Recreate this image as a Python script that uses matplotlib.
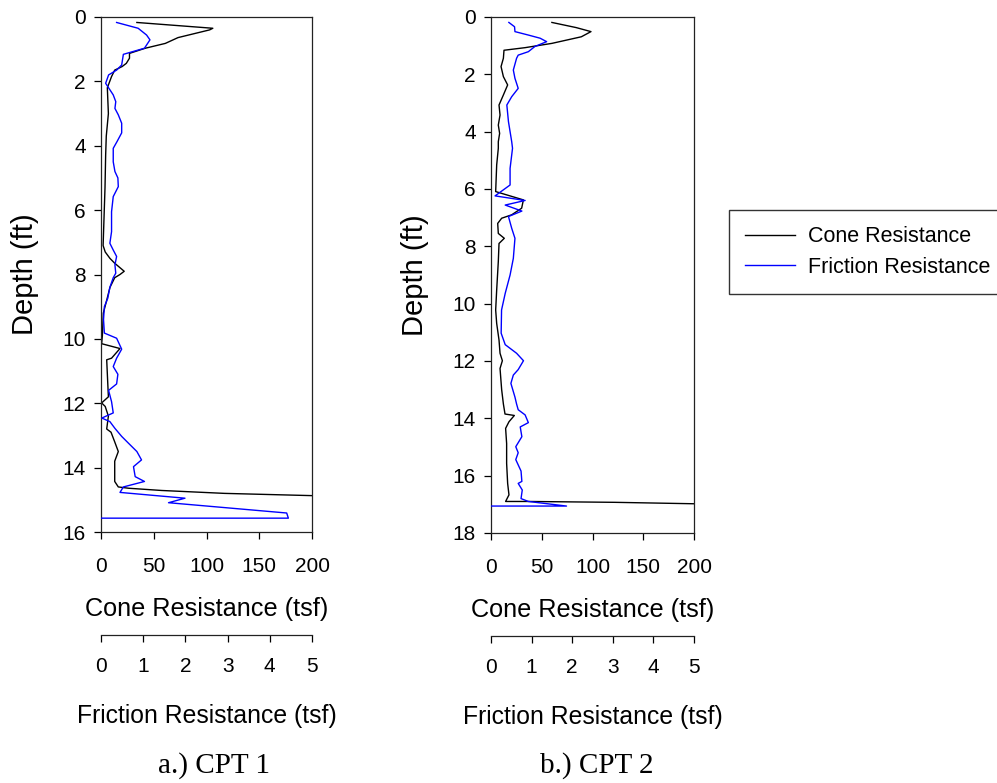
import numpy as np
import matplotlib
matplotlib.use("Agg")
import matplotlib.pyplot as plt

plt.rcParams["font.family"] = ["Liberation Sans", "DejaVu Sans"]

# CPT 1 -- cone resistance (tsf) vs depth (ft)
cpt1_cone_depth = [0.17, 0.35, 0.40, 0.64, 0.82, 0.97, 1.13, 1.28, 1.44, 1.54, 1.65, 1.85, 2.2,
                   3.0, 3.7, 4.3, 5.3, 6.1, 7.1, 7.3, 7.5, 7.65, 7.9, 8.0, 8.1, 8.4, 8.8, 9.2,
                   9.9, 10.15, 10.3, 10.6, 10.65, 11.3, 11.8, 11.99, 12.1, 12.4, 12.8, 12.9,
                   13.2, 13.5, 13.8, 14.43, 14.6, 14.64, 14.71, 14.8, 14.87]
cpt1_cone = [34, 106, 103, 73, 61, 42, 27, 27, 24, 20, 13, 10, 6,
             7, 5, 4.4, 3.8, 3, 2, 4, 8.5, 13, 22, 18, 13, 8.5, 5.4, 2.2,
             1.3, 0.6, 18, 10, 5.4, 6.3, 7, 0.6, 4, 7, 5.4, 9.5,
             13, 16.4, 13, 13, 16.4, 26, 57.5, 117, 200]

# CPT 1 -- friction resistance (tsf) vs depth (ft)
cpt1_fric_depth = [0.17, 0.35, 0.56, 0.71, 0.97, 1.16, 1.49, 1.65, 1.8, 2.06, 2.2, 2.42, 2.63,
                   2.84, 3.04, 3.3, 3.6, 3.87, 4.08, 4.5, 4.8, 5.0, 5.27, 5.58, 6.05, 6.67,
                   7.03, 7.24, 7.44, 7.7, 7.96, 8.1, 8.4, 8.74, 9.0, 9.4, 9.82, 9.98, 10.32,
                   10.6, 10.86, 11.1, 11.4, 11.6, 11.95, 12.3, 12.46, 12.57, 12.78, 13.03,
                   13.24, 13.5, 13.76, 13.97, 14.28, 14.43, 14.6, 14.77, 14.95, 15.09, 15.41,
                   15.57, 15.57]
cpt1_fric = [0.37, 0.88, 1.08, 1.16, 1.03, 0.53, 0.49, 0.37, 0.18, 0.11, 0.18, 0.29, 0.35,
             0.33, 0.41, 0.49, 0.49, 0.38, 0.29, 0.29, 0.33, 0.40, 0.41, 0.29, 0.25, 0.25,
             0.21, 0.29, 0.37, 0.33, 0.35, 0.29, 0.21, 0.16, 0.08, 0.06, 0.08, 0.37, 0.49,
             0.37, 0.29, 0.40, 0.37, 0.18, 0.25, 0.29, 0.02, 0.21, 0.33, 0.49,
             0.65, 0.85, 0.96, 0.77, 0.81, 1.03, 0.53, 0.45, 1.99, 1.60, 4.40,
             4.44, 0.0]

# CPT 2 -- cone resistance
cpt2_cone_depth = [0.19, 0.37, 0.51, 0.69, 0.92, 1.07, 1.16, 1.44, 1.73, 2.08, 2.37, 2.72, 3.07,
                   3.42, 3.77, 4.06, 4.35, 4.58, 5.16, 6.09, 6.38, 6.67, 6.9, 7.02, 7.2, 7.55,
                   7.72, 7.9, 8.53, 9.52, 10.22, 10.69, 11.27, 11.73, 11.99, 12.26, 13.0, 13.5,
                   13.85, 13.9, 14.12, 14.35, 14.88, 15.57, 16.27, 16.67, 16.9, 16.9, 16.93,
                   16.98]
cpt2_cone = [60, 84, 98.5, 89, 60, 33.5, 12.8, 12.2, 9.9, 12.2, 16.4, 12.2, 7.9,
             8.9, 7.2, 8.5, 7.2, 7.2, 5.6, 4.6, 31.9, 30.2, 20.4, 10.5, 6.6, 7.2,
             13.1, 7.9, 7.2, 5.6, 4.6, 5.6, 7.9, 8.9, 11.2, 8.9, 10.5, 12.2,
             13.8, 23, 17.7, 14.4, 15.4, 15.4, 16.4, 17.7, 14.4, 36.8, 122,
             200]

# CPT 2 -- friction resistance
cpt2_fric_depth = [0.19, 0.34, 0.51, 0.63, 0.74, 0.86, 1.03, 1.21, 1.33, 1.44, 1.85, 2.14, 2.49,
                   2.78, 3.07, 3.65, 4.35, 4.58, 5.28, 5.86, 6.24, 6.4, 6.56, 6.77, 6.96, 7.37,
                   7.72, 8.42, 9.0, 9.64, 10.22, 11.03, 11.43, 11.73, 11.99, 12.3, 12.49, 12.78,
                   13.26, 13.5, 13.7, 13.88, 14.15, 14.3, 14.64, 14.99, 15.2, 15.44, 15.84,
                   16.2, 16.27, 16.5, 16.8, 16.9, 17.06, 17.06]
cpt2_fric = [0.44, 0.58, 0.59, 0.92, 1.21, 1.37, 1.08, 0.92, 0.67, 0.63, 0.55, 0.59, 0.67,
             0.51, 0.39, 0.43, 0.51, 0.53, 0.47, 0.47, 0.10, 0.84, 0.35, 0.76, 0.43, 0.51,
             0.59, 0.55, 0.47, 0.35, 0.26, 0.25, 0.35, 0.63, 0.80, 0.67, 0.55, 0.49,
             0.59, 0.63, 0.67, 0.84, 0.92, 0.72, 0.76, 0.61, 0.67, 0.61, 0.74,
             0.76, 0.67, 0.77, 0.74, 0.92, 1.86, 0.0]

cone_ticks = [0, 50, 100, 150, 200]
fric_ticks = [0, 1, 2, 3, 4, 5]

W, H = 997, 783
TICK_FS = 15


def style_axis(ax, xpad):
    for s in ax.spines.values():
        s.set_linewidth(0.9)
        s.set_color("#222222")
    ax.tick_params(direction="out", length=5, width=0.9, labelsize=TICK_FS)
    ax.tick_params(axis="y", pad=6)
    ax.tick_params(axis="x", pad=xpad)


def cpt_panel(fig, rect, cone_d, cone, fric_d, fric, ymax, caption, cap_x):
    ax = fig.add_axes(rect)
    ax.plot(cone, cone_d, color="black", lw=1.0, label="Cone Resistance")
    ax.set_xlim(0, 200)
    ax.set_ylim(ymax, 0)
    ax.set_xticks(cone_ticks)
    ax.set_yticks(np.arange(0, ymax + 1, 2))
    ax.set_xlabel("Cone Resistance (tsf)", fontsize=18.2, labelpad=15)
    ax.set_ylabel("Depth (ft)", fontsize=21, labelpad=17)
    style_axis(ax, 13)

    # friction on its own x scale, drawn as a second axis below
    ax2 = ax.twiny()
    ax2.plot(fric, fric_d, color="#0000ff", lw=1.0, label="Friction Resistance")
    ax2.set_xlim(0, 5)
    ax2.set_ylim(ymax, 0)
    ax2.set_xticks(fric_ticks)
    ax2.xaxis.set_ticks_position("bottom")
    ax2.xaxis.set_label_position("bottom")
    ax2.spines["bottom"].set_position(("outward", 74))
    for s in ["top", "left", "right"]:
        ax2.spines[s].set_visible(False)
    ax2.set_xlabel("Friction Resistance (tsf)", fontsize=17.8, labelpad=20)
    style_axis(ax2, 11)

    fig.text(cap_x / W, 1 - 766 / H, caption, fontsize=21, family=["Liberation Serif"],
             ha="center", va="center")
    return ax, ax2


fig = plt.figure(figsize=(W / 100, H / 100), dpi=100)

ax_a, fx_a = cpt_panel(fig, [101 / W, 1 - 532 / H, 211 / W, 515 / H],
                       cpt1_cone_depth, cpt1_cone, cpt1_fric_depth, cpt1_fric,
                       16, "a.) CPT 1", 214)
ax_b, fx_b = cpt_panel(fig, [491 / W, 1 - 533 / H, 203 / W, 516 / H],
                       cpt2_cone_depth, cpt2_cone, cpt2_fric_depth, cpt2_fric,
                       18, "b.) CPT 2", 597)

handles = ax_b.get_lines() + fx_b.get_lines()
leg = fig.legend(handles, [h.get_label() for h in handles], loc="upper left",
                 bbox_to_anchor=(729 / W, 1 - 210 / H), fontsize=15.5,
                 frameon=True, fancybox=False, handlelength=2.3, handletextpad=0.6,
                 borderpad=0.75, labelspacing=0.45, borderaxespad=0)
leg.get_frame().set_edgecolor("black")
leg.get_frame().set_linewidth(1.0)

fig.savefig("out.png", dpi=100)
